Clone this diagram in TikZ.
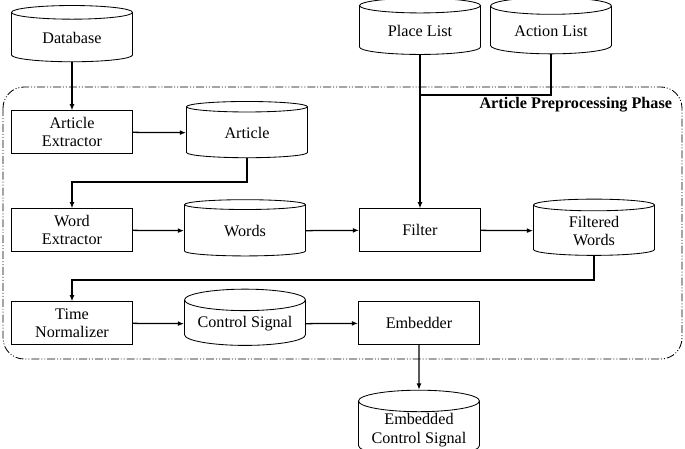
\documentclass[tikz,border=0pt]{standalone}
\usepackage{fontspec}
\setmainfont{Liberation Serif}
\usetikzlibrary{shapes.geometric,arrows.meta}
\begin{document}
\begin{tikzpicture}[x=0.025cm, y=-0.025cm]
      \tikzstyle{BOX} = [draw, rectangle, line width=0.6pt, minimum height=30pt, minimum width=86pt, align=center, inner sep=1pt, font=\fontsize{11.5}{13}\selectfont]
      \tikzstyle{DB} = [draw, cylinder, shape border rotate=90, aspect=0.22, line width=0.6pt, minimum height=40pt, minimum width=86pt, align=center, inner sep=1pt, font=\fontsize{11.5}{13}\selectfont]
      \tikzstyle{ARR} = [-{Latex[length=4.5pt,width=3.5pt]}, line width=0.9pt]
      \tikzstyle{LN} = [line width=0.9pt]

      \useasboundingbox (0,0) rectangle (685,448);

      %%%%% PHASE
      \draw[line width=0.6pt, rounded corners=15pt, dash pattern=on 5.7pt off 1.4pt on 0.7pt off 1.4pt on 0.7pt off 1.4pt] (3,87) rectangle (682,359);
      \node[anchor=east, font=\fontsize{11.5}{12}\selectfont\bfseries] (phase) at (677,105) {Article Preprocessing Phase};

      %%%%% VERTEX
      \node[DB](db) at (72,38) {Database};
      \node[DB](place) at (420,31) {Place List};
      \node[DB](action) at (551,31) {Action List};

      \node[BOX](artx) at (72,132) {Article\\Extractor};
      \node[DB](art) at (247,133) {Article};

      \node[BOX](wordx) at (72,230) {Word\\Extractor};
      \node[DB](words) at (245,231) {Words};
      \node[BOX](filter) at (420,230) {Filter};
      \node[DB](fwords) at (594,231) {Filtered\\Words};

      \node[BOX](timen) at (72,323) {Time\\Normalizer};
      \node[DB](ctrl) at (245,324) {Control Signal};
      \node[BOX](emb) at (419,323) {Embedder};

      \node[DB](ectrl) at (419,430) {Embedded\\Control Signal};

      \coordinate (join) at (420,95);

      %%%%% EDGES
      \draw[ARR] (db) -- (artx);
      \draw[ARR] (artx) -- (art);
      \draw[ARR] (art.south) |- (72,182) -- (wordx.north);
      \draw[ARR] (wordx) -- (words);
      \draw[ARR] (words) -- (filter);
      \draw[ARR] (filter) -- (fwords);
      \draw[ARR] (fwords.south) |- (72,280) -- (timen.north);
      \draw[ARR] (timen) -- (ctrl);
      \draw[ARR] (ctrl) -- (emb);
      \draw[ARR] (emb) -- (ectrl);

      \draw[ARR] (place) -- (filter);
      \draw[LN] (action.south) |- (join);
\end{tikzpicture}
\end{document}
